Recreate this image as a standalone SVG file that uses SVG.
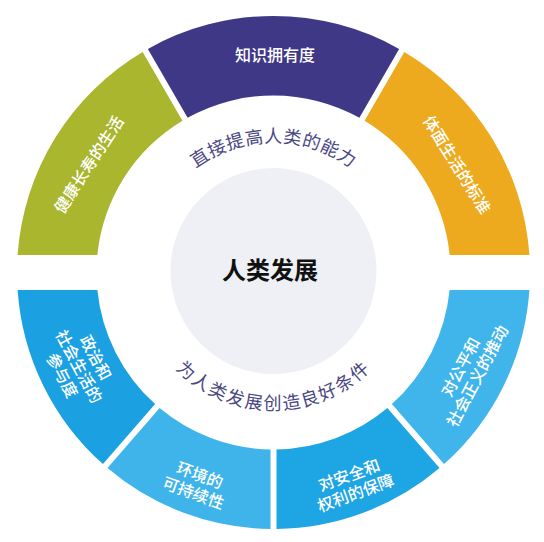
<svg xmlns="http://www.w3.org/2000/svg" xmlns:xlink="http://www.w3.org/1999/xlink" width="544" height="542" viewBox="0 0 544 542">
<defs>
<style>
.lbl{font-family:"Noto Sans CJK SC","Noto Sans",sans-serif;font-size:16px;font-weight:500;fill:#ffffff;text-anchor:middle;dominant-baseline:central}
.arc{font-family:"Noto Sans CJK SC","Noto Sans",sans-serif;font-size:18px;fill:#4a4785;text-anchor:middle}
.hub{font-family:"Noto Sans CJK SC","Noto Sans",sans-serif;font-size:24px;font-weight:bold;fill:#111111;text-anchor:middle}
</style>
<path id="topArc" d="M 143.5,272.5 A 130 130 0 0 1 403.5,272.5"/>
<path id="botArc" d="M 136,272.5 A 137.5 137.5 0 0 0 411,272.5"/>
</defs>
<rect width="544" height="542" fill="#ffffff"/>

<g id="hub">
<circle cx="273.5" cy="271" r="103" fill="#eef0f5"/>
<text class="hub" x="270" y="279">人类发展</text>
</g>

<g id="ring-top-label">
<text class="arc" letter-spacing="0.5"><textPath xlink:href="#topArc" href="#topArc" startOffset="50%">直接提高人类的能力</textPath></text>
</g>
<g id="ring-bottom-label">
<text class="arc" letter-spacing="1.8"><textPath xlink:href="#botArc" href="#botArc" startOffset="50%">为人类发展创造良好条件</textPath></text>
</g>

<g id="seg-health">
<path d="M 17.6,255 A 256.5 256.5 0 0 1 142.66,51.88 L 182.42,120.74 A 177 177 0 0 0 97.37,255 Z" fill="#a9b62e"/>
<text class="lbl" transform="translate(88,164) rotate(-57)">健康长寿的生活</text>
</g>
<g id="seg-knowledge">
<path d="M 147.86,48.88 A 256.5 256.5 0 0 1 399.14,48.88 L 359.39,117.74 A 177 177 0 0 0 187.61,117.74 Z" fill="#3f3886"/>
<text class="lbl" x="275" y="54">知识拥有度</text>
</g>
<g id="seg-living">
<path d="M 404.34,51.88 A 256.5 256.5 0 0 1 529.4,255 L 449.63,255 A 177 177 0 0 0 364.58,120.74 Z" fill="#eeaa1e"/>
<text class="lbl" transform="translate(458,164) rotate(58)">体面生活的标准</text>
</g>
<g id="seg-politics">
<path d="M 17.6,290 A 256.5 256.5 0 0 0 102.96,464.1 L 155.13,404.09 A 177 177 0 0 1 97.37,290 Z" fill="#1ba1e2"/>
<text class="lbl" transform="translate(80,366) rotate(62)"><tspan x="0" y="-19">政治和</tspan><tspan x="0" y="0">社会生活的</tspan><tspan x="0" y="19">参与度</tspan></text>
</g>
<g id="seg-environment">
<path d="M 107.48,468.04 A 256.5 256.5 0 0 0 270.5,528.98 L 270.5,449.47 A 177 177 0 0 1 159.65,408.03 Z" fill="#3fb4ea"/>
<text class="lbl" transform="translate(197,483) rotate(20)"><tspan x="0" y="-9.5">环境的</tspan><tspan x="0" y="9.5">可持续性</tspan></text>
</g>
<g id="seg-security">
<path d="M 276.5,528.98 A 256.5 256.5 0 0 0 439.52,468.04 L 387.35,408.03 A 177 177 0 0 1 276.5,449.47 Z" fill="#1ea5e4"/>
<text class="lbl" transform="translate(352,483) rotate(-20)"><tspan x="0" y="-9.5">对安全和</tspan><tspan x="0" y="9.5">权利的保障</tspan></text>
</g>
<g id="seg-justice">
<path d="M 444.04,464.1 A 256.5 256.5 0 0 0 529.4,290 L 449.63,290 A 177 177 0 0 1 391.87,404.09 Z" fill="#40b5eb"/>
<text class="lbl" transform="translate(468,371) rotate(-62)"><tspan x="0" y="-9.5">对公平和</tspan><tspan x="0" y="9.5">社会正义的推动</tspan></text>
</g>
</svg>
